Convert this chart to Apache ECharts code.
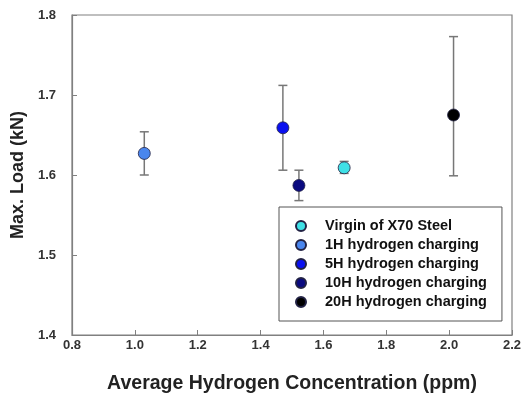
<!DOCTYPE html>
<html>
<head>
<meta charset="utf-8">
<script src="https://cdn.jsdelivr.net/npm/echarts@6/dist/echarts.min.js"></script>
<style>
	html, body { margin: 0; padding: 0; background: #fff; }
	#chart { width: 530px; height: 399px; }
</style>
</head>
<body>
<div id="chart"></div>
<script>
// groups
var names = ['Virgin of X70 Steel', '1H hydrogen charging', '5H hydrogen charging', '10H hydrogen charging', '20H hydrogen charging'];
var colors = ['#3fe0e6', '#4a86ee', '#0a10f0', '#0a0a80', '#000000'];
var conc = [1.666, 1.03, 1.471, 1.522, 2.014];
var maxLoad = [1.609, 1.627, 1.659, 1.587, 1.675];
var errLow = [1.602, 1.600, 1.606, 1.568, 1.599];
var errHigh = [1.617, 1.654, 1.712, 1.606, 1.773];

var xTicks = [0.8, 1.0, 1.2, 1.4, 1.6, 1.8, 2.0, 2.2];
var yTicks = [1.4, 1.5, 1.6, 1.7, 1.8];

var font = 'Arial, "Liberation Sans", sans-serif';

var myChart = echarts.init(document.getElementById('chart'));

var series = [];
// error bars first so markers sit on top
var errData = [];
for (var i = 0; i < names.length; i++) {
	errData.push([conc[i], errLow[i], errHigh[i]]);
}
series.push({
	type: 'custom',
	silent: true,
	z: 1,
	data: errData,
	renderItem: function (params, api) {
		var x = api.value(0);
		var lo = api.coord([x, api.value(1)]);
		var hi = api.coord([x, api.value(2)]);
		var cap = 4.5;
		var st = {stroke: '#777', lineWidth: 1.5};
		return {
			type: 'group',
			children: [
				{type: 'line', shape: {x1: lo[0], y1: lo[1], x2: hi[0], y2: hi[1]}, style: st},
				{type: 'line', shape: {x1: lo[0] - cap, y1: lo[1], x2: lo[0] + cap, y2: lo[1]}, style: st},
				{type: 'line', shape: {x1: hi[0] - cap, y1: hi[1], x2: hi[0] + cap, y2: hi[1]}, style: st}
			]
		};
	}
});

for (var i = 0; i < names.length; i++) {
	series.push({
		name: names[i],
		type: 'scatter',
		z: 3,
		symbol: 'circle',
		symbolSize: 12,
		itemStyle: {color: colors[i], borderColor: '#222244', borderWidth: 0.8, opacity: 1},
		data: [[conc[i], maxLoad[i]]]
	});
}

var option = {
	animation: false,
	backgroundColor: '#fff',
	grid: {
		left: 72, right: 18, top: 15, bottom: 63,
		show: true,
		borderColor: '#808080',
		borderWidth: 1.2
	},
	legend: {
		orient: 'vertical',
		left: 279,
		top: 207,
		data: names,
		icon: 'circle',
		itemWidth: 10,
		itemHeight: 10,
		itemGap: 3,
		padding: [11, 15, 11, 16],
		borderColor: '#555',
		borderWidth: 1,
		backgroundColor: '#fff',
		selectedMode: false,
		textStyle: {
			fontFamily: font,
			fontWeight: 'bold',
			fontSize: 14.5,
			lineHeight: 16,
			color: '#111',
			padding: [0, 0, 0, 14]
		}
	},
	xAxis: {
		type: 'value',
		min: xTicks[0],
		max: xTicks[xTicks.length - 1],
		interval: 0.2,
		name: 'Average Hydrogen Concentration (ppm)',
		nameLocation: 'middle',
		nameGap: 39,
		nameTextStyle: {fontFamily: font, fontWeight: 'bold', fontSize: 19.5, color: '#222'},
		axisLine: {show: true, lineStyle: {color: '#808080', width: 1.2}},
		axisTick: {show: true, inside: true, length: 5, lineStyle: {color: '#808080'}},
		axisLabel: {
			fontFamily: font, fontWeight: 'bold', fontSize: 13, color: '#333', margin: 4,
			formatter: function (v) { return v.toFixed(1); }
		},
		splitLine: {show: false}
	},
	yAxis: {
		type: 'value',
		min: yTicks[0],
		max: yTicks[yTicks.length - 1],
		interval: 0.1,
		name: 'Max. Load (kN)',
		nameLocation: 'middle',
		nameGap: 43,
		nameTextStyle: {fontFamily: font, fontWeight: 'bold', fontSize: 18, color: '#222'},
		axisLine: {show: true, lineStyle: {color: '#808080', width: 1.2}},
		axisTick: {show: true, inside: true, length: 5, lineStyle: {color: '#808080'}},
		axisLabel: {
			fontFamily: font, fontWeight: 'bold', fontSize: 13, color: '#333', margin: 16,
			formatter: function (v) { return v.toFixed(1); }
		},
		splitLine: {show: false}
	},
	series: series
};

myChart.setOption(option);
</script>
</body>
</html>
